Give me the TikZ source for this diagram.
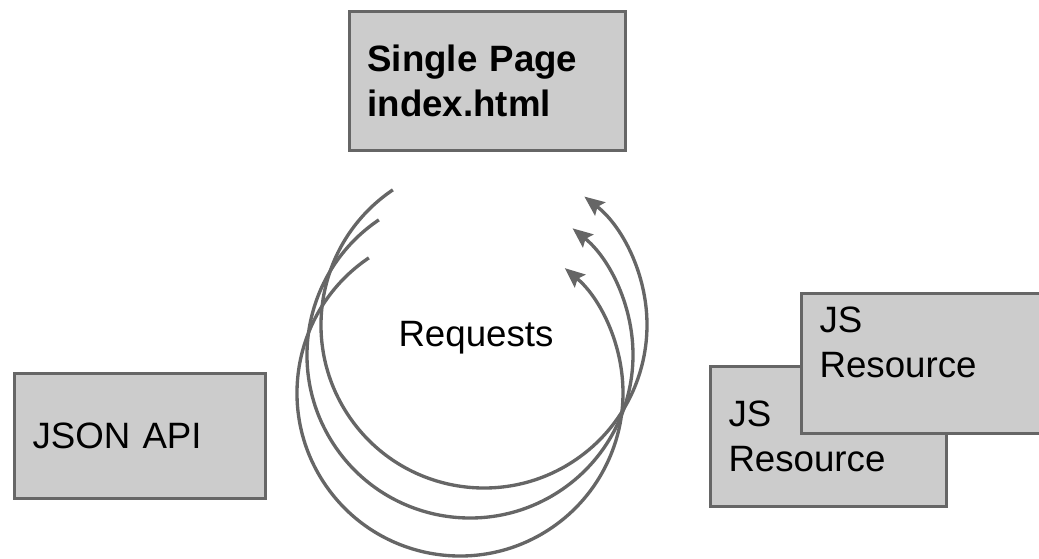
\documentclass[tikz,border=0pt]{standalone}
\usepackage{fontspec}
\setmainfont{Liberation Sans}
\usetikzlibrary{arrows.meta}
\definecolor{boxline}{HTML}{666666}
\definecolor{boxfill}{HTML}{CCCCCC}
\tikzset{every picture/.style={line width=0.75pt}}
\tikzset{
  box/.style={draw=boxline, fill=boxfill, line width=2.7pt, inner xsep=13.5pt, inner ysep=0pt, align=left, font=\fontsize{27.5}{33.75}\selectfont},
  req/.style={draw=boxline, line width=2.5pt, -{Stealth[length=15pt,width=12.5pt,inset=2.5pt]}},
}

\begin{document}
\begin{tikzpicture}[x=0.75pt,y=0.75pt,yscale=-1,xscale=1]
\path[use as bounding box] (0,0) rectangle (1039,559);

%Boxes
\node[box, minimum width=207pt, minimum height=104.25pt, text width=180pt, font=\fontsize{27.5}{33.75}\selectfont\bfseries] (spa) at (487.5,81) {Single Page\\index.html};
\node[box, minimum width=188.25pt, minimum height=93.75pt, text width=161.25pt] (json) at (140,436) {JSON API};
\node[box, minimum width=177pt, minimum height=105pt, text width=150pt] (jsa) at (828.5,436.5) {JS\\Resource};
\node[box, minimum width=179.5pt, minimum height=105pt, text width=152.5pt, text depth=66pt] (jsb) at (921.25,363.5) {JS\\Resource};

% Text Node
\node[font=\fontsize{27.5}{33.75}\selectfont, anchor=base west, inner sep=0pt] (reqtxt) at (398,347) {Requests};

%Request arcs
\coordinate (r1) at (484,325);
\coordinate (r2) at (470,355);
\coordinate (r3) at (460,393);
\draw[req] ([shift={(236:163)}]r1) arc[start angle=236, end angle=-52, radius=163];
\draw[req] ([shift={(236:163)}]r2) arc[start angle=236, end angle=-51, radius=163];
\draw[req] ([shift={(236:163)}]r3) arc[start angle=236, end angle=-50, radius=163];
\end{tikzpicture}
\end{document}
